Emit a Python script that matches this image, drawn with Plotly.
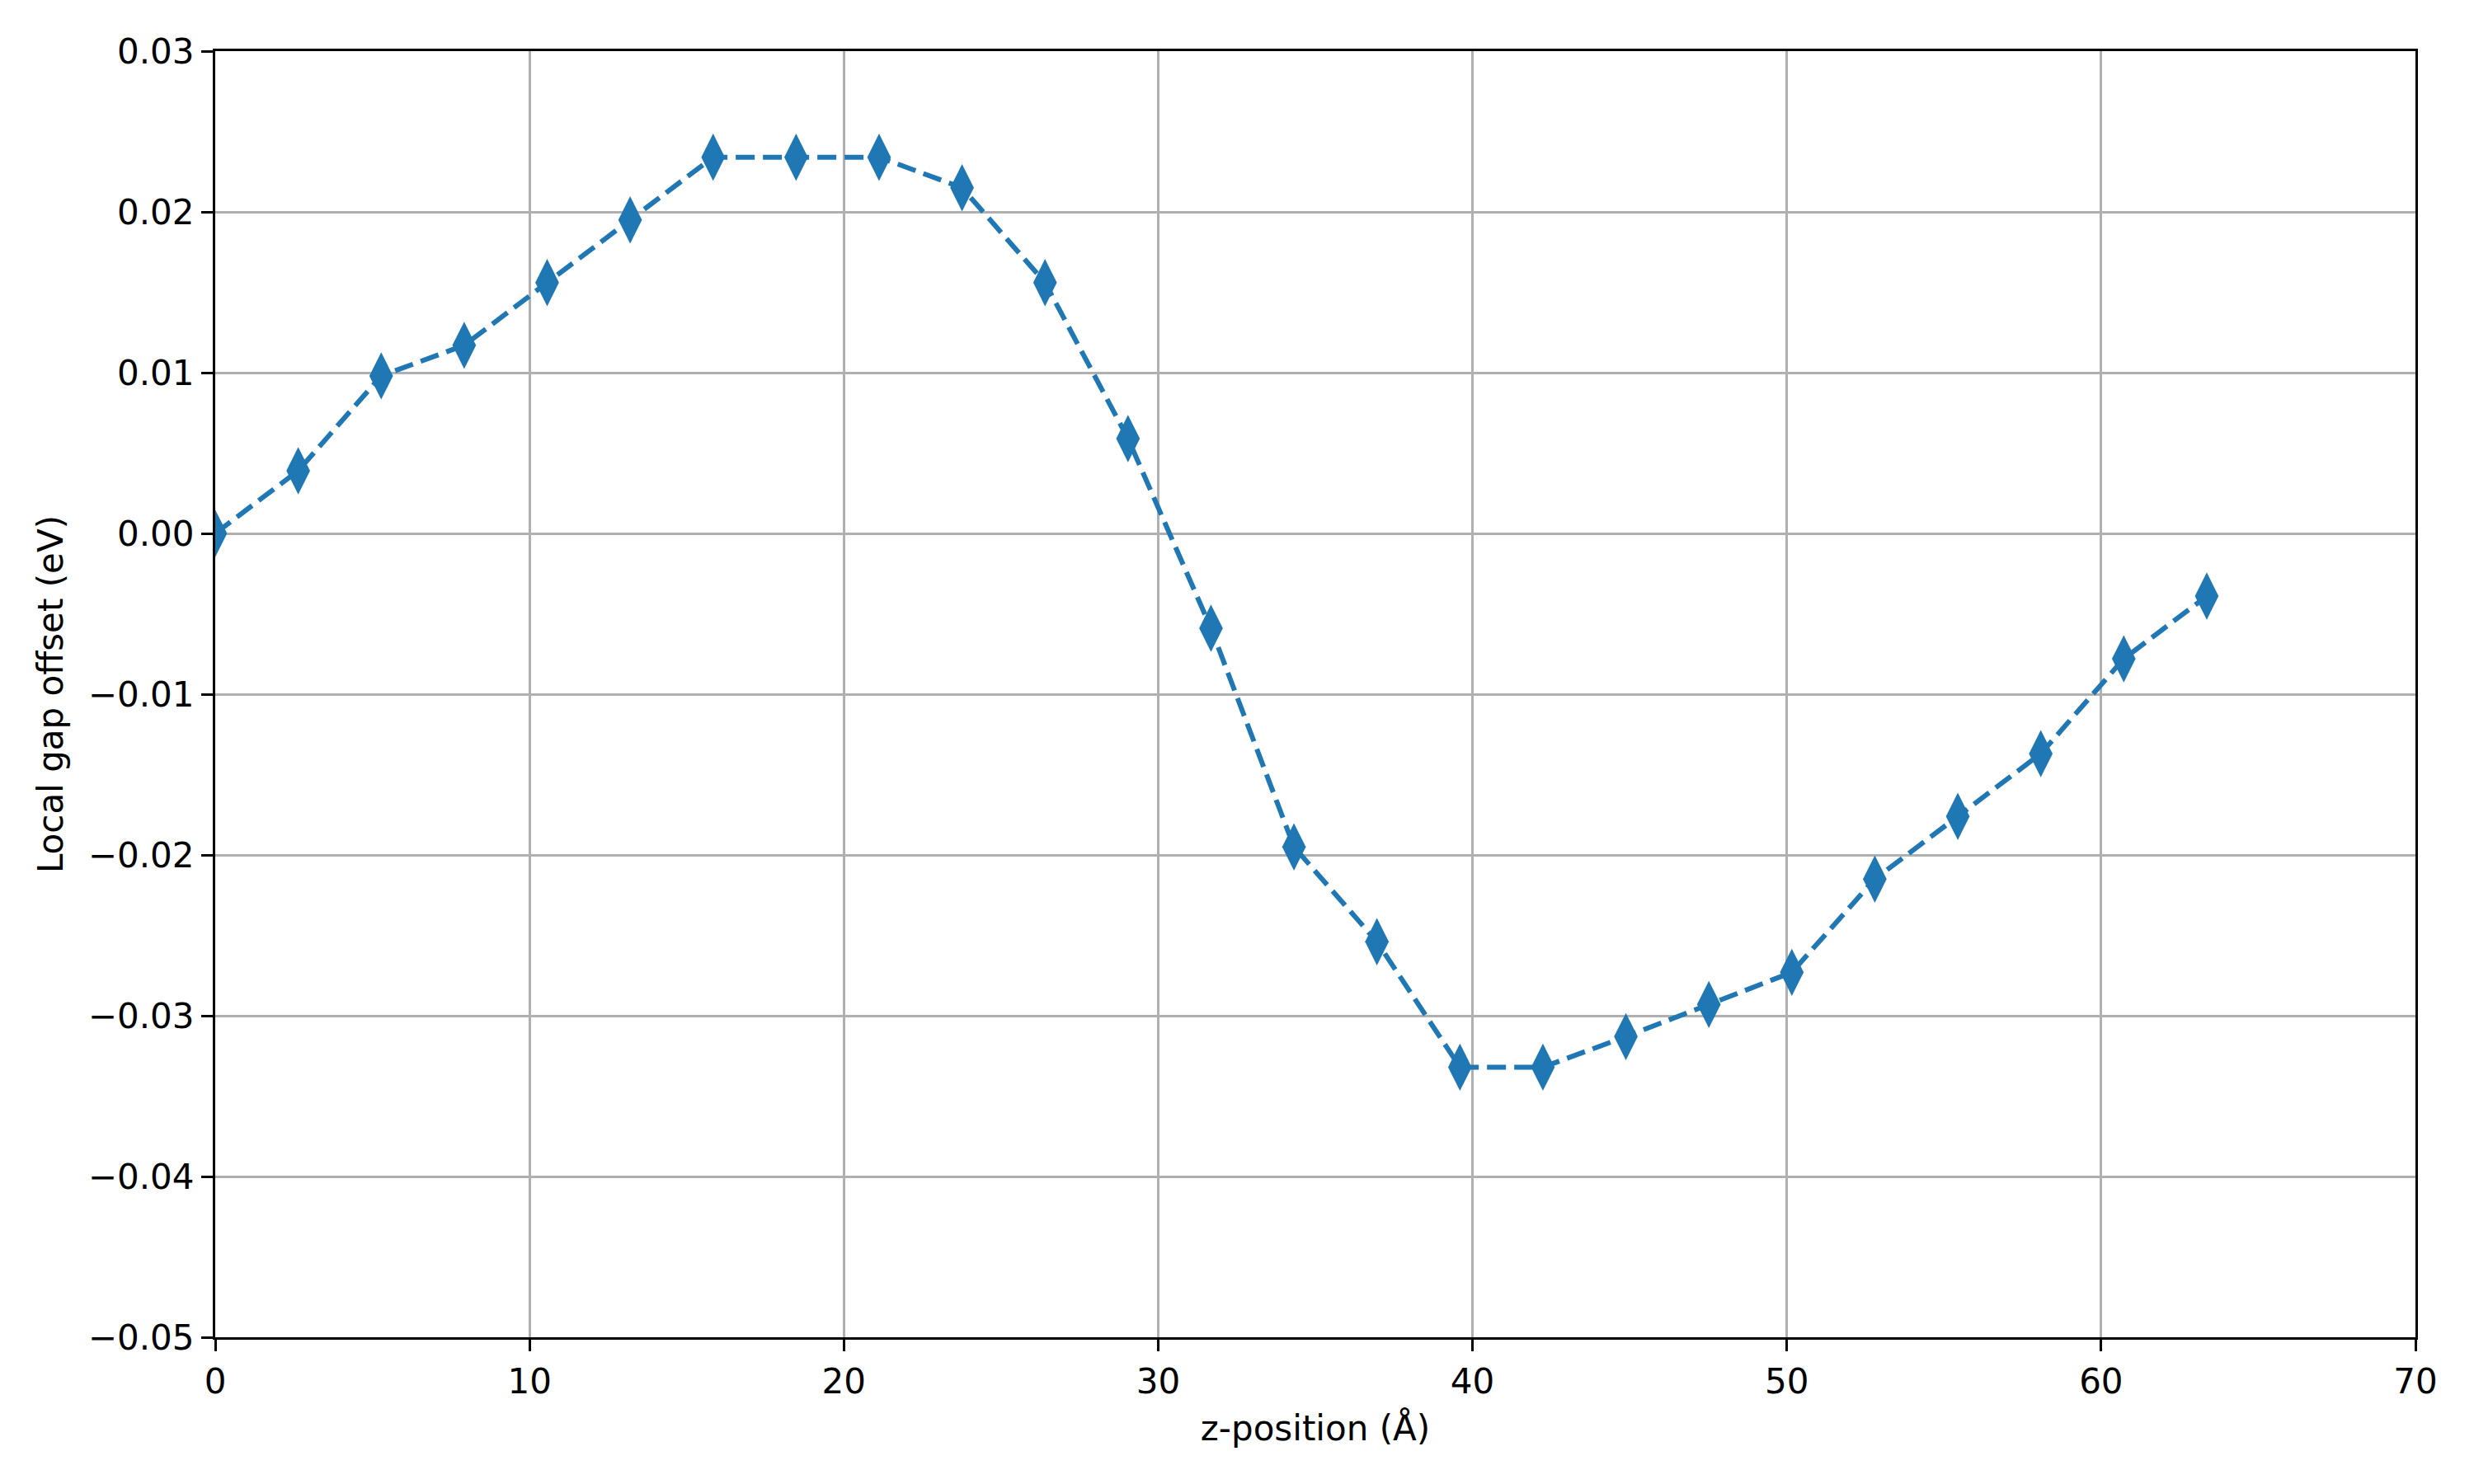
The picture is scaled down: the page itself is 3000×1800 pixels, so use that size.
import plotly.graph_objects as go

# z-positions (Angstrom) and local gap offset (eV)
z_pos = [0.0, 2.64, 5.28, 7.92, 10.56, 13.2, 15.84, 18.48, 21.12, 23.76,
         26.4, 29.04, 31.68, 34.32, 36.96, 39.6, 42.24, 44.88, 47.52, 50.16,
         52.8, 55.44, 58.08, 60.72, 63.36]
gap_offset = [0.0, 0.0039, 0.0098, 0.0117, 0.0156, 0.0195, 0.0234, 0.0234, 0.0234, 0.0215,
              0.0156, 0.0059, -0.0059, -0.0195, -0.0254, -0.0332, -0.0332, -0.0313, -0.0293, -0.0273,
              -0.0215, -0.0176, -0.0137, -0.0078, -0.0039]

y_ticks = [0.03, 0.02, 0.01, 0.0, -0.01, -0.02, -0.03, -0.04, -0.05]
y_labels = ["0.03", "0.02", "0.01", "0.00", "\u22120.01", "\u22120.02",
            "\u22120.03", "\u22120.04", "\u22120.05"]
x_ticks = [0, 10, 20, 30, 40, 50, 60, 70]

BLUE = "#1f77b4"
FONT = "DejaVu Sans"

fig = go.Figure()
fig.add_trace(go.Scatter(
    x=z_pos, y=gap_offset,
    mode="lines+markers",
    line=dict(color=BLUE, width=6, dash="23px,10px"),
    marker=dict(symbol="diamond-tall", size=41, color=BLUE, line=dict(width=0)),
    showlegend=False,
))

axis_common = dict(
    showline=True, mirror=True, linecolor="black", linewidth=3.3,
    showgrid=True, gridcolor="#b0b0b0", gridwidth=3.3,
    zeroline=False,
    ticks="outside", ticklen=14, tickwidth=3.3, tickcolor="black",
    tickfont=dict(family=FONT, size=42, color="black"),
    ticklabelstandoff=0,
)

fig.update_xaxes(
    range=[0, 70], tickvals=x_ticks,
    title=dict(text="z-position (Å)", font=dict(family=FONT, size=42, color="black"),
               standoff=20),
    **axis_common,
)
fig.update_yaxes(
    range=[-0.05, 0.03], tickvals=y_ticks, ticktext=y_labels,
    title=dict(text="Local gap offset (eV)", font=dict(family=FONT, size=42, color="black"),
               standoff=18),
    **axis_common,
)

# page body adds ~8px offset, so margins are shifted accordingly
fig.update_layout(
    width=3000, height=1800,
    margin=dict(l=253, r=79, t=54, b=186),
    plot_bgcolor="white", paper_bgcolor="white",
    font=dict(family=FONT, size=42, color="black"),
)

fig.write_html("out.html")
